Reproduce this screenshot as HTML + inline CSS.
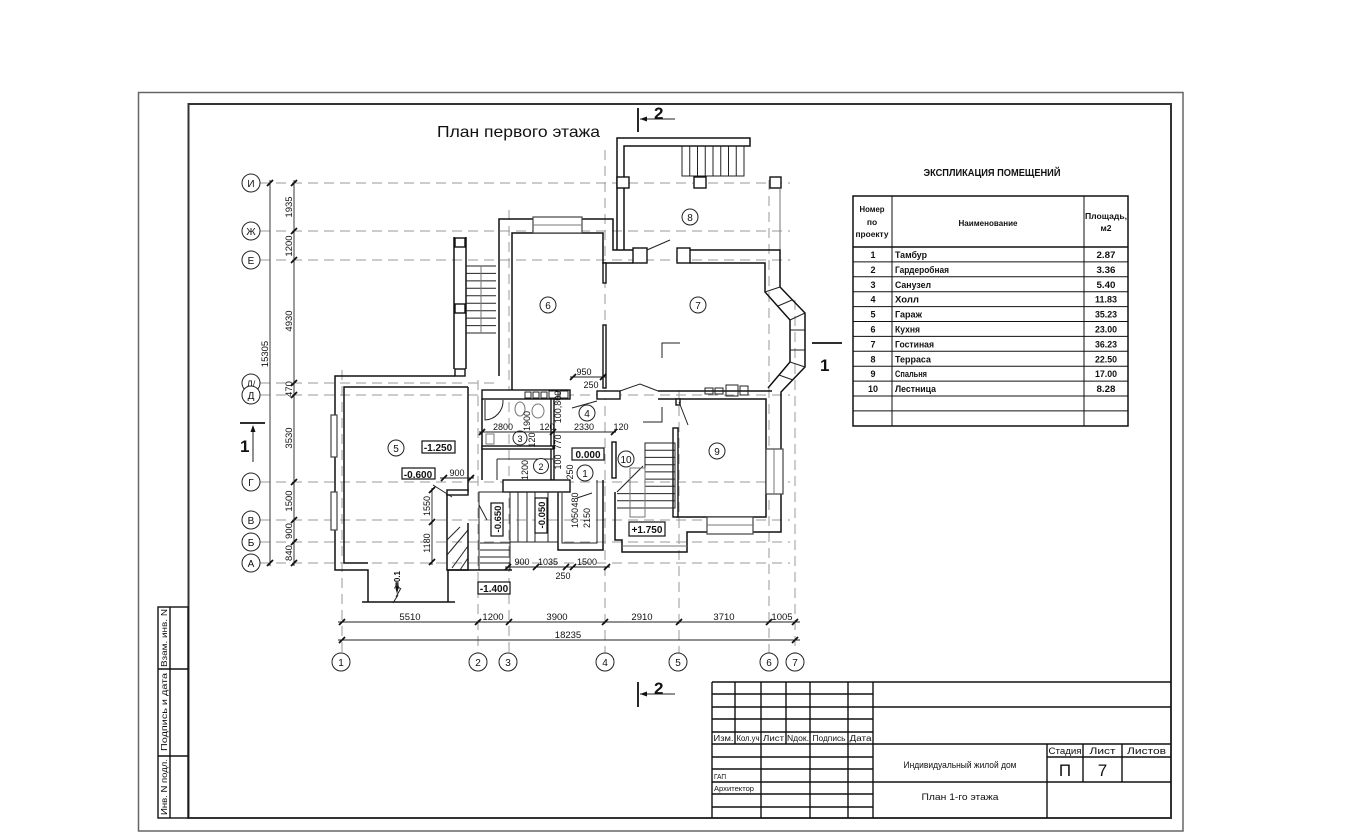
<!DOCTYPE html>
<html><head><meta charset="utf-8">
<style>
html,body{margin:0;padding:0;background:#fff;}
svg{display:block;}
text{font-family:"Liberation Sans",sans-serif;fill:#111;}
.w{fill:none;stroke:#111;stroke-width:1.5;}
.wf{fill:#fff;stroke:#111;stroke-width:1.4;}
.t{fill:none;stroke:#222;stroke-width:1;}
.gr{fill:none;stroke:#777;stroke-width:1;}
.g{fill:none;stroke:#9a9a9a;stroke-width:1;stroke-dasharray:10 6;}
.d{fill:none;stroke:#222;stroke-width:0.9;}
.tk{fill:none;stroke:#111;stroke-width:1.8;}
.tb{fill:none;stroke:#111;stroke-width:1.4;}
.n{font-size:9.5px;fill:#222;}
.c{fill:#fff;stroke:#222;stroke-width:1;}
</style></head><body>
<svg width="1350" height="840" viewBox="0 0 1350 840" xmlns="http://www.w3.org/2000/svg">
<rect width="1350" height="840" fill="#fff"/>

<!-- Frames -->
<rect x="138.5" y="92.5" width="1044.5" height="738.5" fill="none" stroke="#666" stroke-width="1.5"/>
<rect x="188.5" y="104" width="982.5" height="714" fill="none" stroke="#333" stroke-width="2"/>

<!-- Left stamp -->
<g class="tb">
<rect x="158" y="607" width="30" height="211"/>
<line x1="170" y1="607" x2="170" y2="818"/>
<line x1="158" y1="669" x2="188" y2="669"/>
<line x1="158" y1="756" x2="188" y2="756"/>
</g>
<g font-size="8">
<text x="167" y="638" text-anchor="middle" transform="rotate(-90 167 638)" textLength="58" lengthAdjust="spacingAndGlyphs">Взам. инв. N</text>
<text x="167" y="712" text-anchor="middle" transform="rotate(-90 167 712)" textLength="78" lengthAdjust="spacingAndGlyphs">Подпись и дата</text>
<text x="167" y="787" text-anchor="middle" transform="rotate(-90 167 787)" textLength="56" lengthAdjust="spacingAndGlyphs">Инв. N подл.</text>
</g>

<!-- Plan title -->
<text x="437" y="137" font-size="16" textLength="163" lengthAdjust="spacingAndGlyphs">План первого этажа</text>

<!-- Section marks 2 -->
<line x1="638" y1="108" x2="638" y2="132" class="tk"/>
<line x1="640" y1="119" x2="675" y2="119" class="t"/>
<path d="M640,119 L647,116.5 L647,121.5 Z" fill="#111"/>
<text x="654" y="119" font-size="17" font-weight="bold">2</text>
<line x1="638" y1="682" x2="638" y2="707" class="tk"/>
<line x1="640" y1="694" x2="675" y2="694" class="t"/>
<path d="M640,694 L647,691.5 L647,696.5 Z" fill="#111"/>
<text x="654" y="694" font-size="17" font-weight="bold">2</text>
<!-- Section marks 1 -->
<line x1="240" y1="423" x2="265" y2="423" class="tk"/>
<line x1="253" y1="462" x2="253" y2="426" class="t"/>
<path d="M253,425 L250.5,432 L255.5,432 Z" fill="#111"/>
<text x="240" y="452" font-size="17" font-weight="bold">1</text>
<line x1="812" y1="343" x2="842" y2="343" class="tk"/>
<text x="820" y="371" font-size="17" font-weight="bold">1</text>

<!-- Grid lines horizontal -->
<g class="g">
<line x1="260" y1="183" x2="790" y2="183"/>
<line x1="260" y1="231" x2="790" y2="231"/>
<line x1="260" y1="260" x2="790" y2="260"/>
<line x1="260" y1="383" x2="500" y2="383"/>
<line x1="260" y1="395" x2="790" y2="395"/>
<line x1="260" y1="482" x2="790" y2="482"/>
<line x1="260" y1="520" x2="790" y2="520"/>
<line x1="260" y1="542" x2="790" y2="542"/>
<line x1="260" y1="563" x2="790" y2="563"/>
<!-- vertical -->
<line x1="342" y1="370" x2="342" y2="653"/>
<line x1="478" y1="380" x2="478" y2="653"/>
<line x1="509" y1="210" x2="509" y2="653"/>
<line x1="605" y1="150" x2="605" y2="653"/>
<line x1="679" y1="390" x2="679" y2="653"/>
<line x1="769" y1="180" x2="769" y2="653"/>
<line x1="795" y1="300" x2="795" y2="653"/>
</g>

<!-- Left axis circles -->
<g>
<circle cx="251" cy="183" r="9" class="c"/><text x="251" y="187" font-size="10" text-anchor="middle">И</text>
<circle cx="251" cy="231" r="9" class="c"/><text x="251" y="235" font-size="10" text-anchor="middle">Ж</text>
<circle cx="251" cy="260" r="9" class="c"/><text x="251" y="264" font-size="10" text-anchor="middle">Е</text>
<circle cx="251" cy="383" r="9" class="c"/><text x="251" y="387" font-size="9" text-anchor="middle">Д/</text>
<circle cx="251" cy="395" r="9" class="c"/><text x="251" y="399" font-size="10" text-anchor="middle">Д</text>
<circle cx="251" cy="482" r="9" class="c"/><text x="251" y="486" font-size="10" text-anchor="middle">Г</text>
<circle cx="251" cy="520" r="9" class="c"/><text x="251" y="524" font-size="10" text-anchor="middle">В</text>
<circle cx="251" cy="542" r="9" class="c"/><text x="251" y="546" font-size="10" text-anchor="middle">Б</text>
<circle cx="251" cy="563" r="9" class="c"/><text x="251" y="567" font-size="10" text-anchor="middle">А</text>
</g>

<!-- Left dimension lines -->
<line x1="270" y1="180" x2="270" y2="566" class="d"/>
<line x1="294" y1="180" x2="294" y2="566" class="d"/>
<g class="tk">
<path d="M267,186 L273,180"/><path d="M267,566 L273,560"/>
<path d="M291,186 L297,180"/><path d="M291,234 L297,228"/><path d="M291,263 L297,257"/>
<path d="M291,386 L297,380"/><path d="M291,398 L297,392"/><path d="M291,485 L297,479"/>
<path d="M291,523 L297,517"/><path d="M291,545 L297,539"/><path d="M291,566 L297,560"/>
</g>
<g class="n">
<text x="292" y="207" text-anchor="middle" transform="rotate(-90 292 207)">1935</text>
<text x="292" y="246" text-anchor="middle" transform="rotate(-90 292 246)">1200</text>
<text x="292" y="321" text-anchor="middle" transform="rotate(-90 292 321)">4930</text>
<text x="292" y="389" text-anchor="middle" transform="rotate(-90 292 389)">470</text>
<text x="292" y="438" text-anchor="middle" transform="rotate(-90 292 438)">3530</text>
<text x="292" y="501" text-anchor="middle" transform="rotate(-90 292 501)">1500</text>
<text x="292" y="531" text-anchor="middle" transform="rotate(-90 292 531)">900</text>
<text x="292" y="553" text-anchor="middle" transform="rotate(-90 292 553)">840</text>
<text x="268" y="354" text-anchor="middle" transform="rotate(-90 268 354)">15305</text>
</g>

<!-- Bottom dimension lines -->
<line x1="338" y1="622" x2="800" y2="622" class="d"/>
<line x1="338" y1="640" x2="800" y2="640" class="d"/>
<g class="tk">
<path d="M339,625 L345,619"/><path d="M475,625 L481,619"/><path d="M506,625 L512,619"/>
<path d="M602,625 L608,619"/><path d="M676,625 L682,619"/><path d="M766,625 L772,619"/>
<path d="M792,625 L798,619"/>
<path d="M339,643 L345,637"/><path d="M792,643 L798,637"/>
</g>
<g class="n" text-anchor="middle">
<text x="410" y="620">5510</text>
<text x="493" y="620">1200</text>
<text x="557" y="620">3900</text>
<text x="642" y="620">2910</text>
<text x="724" y="620">3710</text>
<text x="782" y="620">1005</text>
<text x="568" y="638">18235</text>
</g>
<!-- Bottom axis circles -->
<g>
<circle cx="341" cy="662" r="9" class="c"/><text x="341" y="666" font-size="10" text-anchor="middle">1</text>
<circle cx="478" cy="662" r="9" class="c"/><text x="478" y="666" font-size="10" text-anchor="middle">2</text>
<circle cx="508" cy="662" r="9" class="c"/><text x="508" y="666" font-size="10" text-anchor="middle">3</text>
<circle cx="605" cy="662" r="9" class="c"/><text x="605" y="666" font-size="10" text-anchor="middle">4</text>
<circle cx="678" cy="662" r="9" class="c"/><text x="678" y="666" font-size="10" text-anchor="middle">5</text>
<circle cx="769" cy="662" r="9" class="c"/><text x="769" y="666" font-size="10" text-anchor="middle">6</text>
<circle cx="795" cy="662" r="9" class="c"/><text x="795" y="666" font-size="10" text-anchor="middle">7</text>
</g>

<!-- ===== PLAN ===== -->
<!-- Terrace -->
<path class="w" d="M617,250 V138 H750 V146 H624 V250"/>
<rect x="682" y="146" width="62" height="30" class="t"/>
<g class="t">
<line x1="689.75" y1="146" x2="689.75" y2="176"/><line x1="697.5" y1="146" x2="697.5" y2="176"/>
<line x1="705.25" y1="146" x2="705.25" y2="176"/><line x1="713" y1="146" x2="713" y2="176"/>
<line x1="720.75" y1="146" x2="720.75" y2="176"/><line x1="728.5" y1="146" x2="728.5" y2="176"/>
<line x1="736.25" y1="146" x2="736.25" y2="176"/>
</g>
<rect x="617" y="177" width="12" height="11" class="wf"/>
<rect x="694" y="177" width="12" height="11" class="wf"/>
<rect x="770" y="177" width="11" height="11" class="wf"/>
<line x1="780" y1="188" x2="780" y2="250" class="gr"/>
<circle cx="690" cy="217" r="8" class="c"/><text x="690" y="221" font-size="10" text-anchor="middle">8</text>

<!-- Kitchen -->
<path class="w" d="M499,376 V219 H613 V250 H633"/>
<path class="w" d="M512,390 V233 H603 V263 H633"/>
<rect x="533" y="217" width="49" height="16" fill="#fff" stroke="#444" stroke-width="1.2"/>
<line x1="533" y1="225" x2="582" y2="225" class="gr"/>
<rect x="633" y="248" width="14" height="15" class="wf"/>
<rect x="677" y="248" width="13" height="15" class="wf"/>
<line x1="647" y1="250" x2="670" y2="240" class="t"/>
<!-- partition 6/7 -->
<rect x="603" y="263" width="3" height="20" class="wf"/>
<rect x="603" y="325" width="3" height="63" class="wf"/>
<circle cx="548" cy="305" r="8" class="c"/><text x="548" y="309" font-size="10" text-anchor="middle">6</text>

<!-- Stair block left of kitchen -->
<line x1="454" y1="237" x2="454" y2="369" class="w"/>
<line x1="466" y1="237" x2="466" y2="369" class="w"/>
<rect x="455" y="238" width="10" height="9" class="wf"/>
<rect x="455" y="304" width="10" height="9" class="wf"/>
<rect x="455" y="369" width="10" height="7" class="wf"/>
<g class="t">
<line x1="466" y1="266" x2="496" y2="266"/><line x1="466" y1="273.4" x2="496" y2="273.4"/>
<line x1="466" y1="280.9" x2="496" y2="280.9"/><line x1="466" y1="288.3" x2="496" y2="288.3"/>
<line x1="466" y1="295.8" x2="496" y2="295.8"/><line x1="466" y1="303.2" x2="496" y2="303.2"/>
<line x1="466" y1="310.7" x2="496" y2="310.7"/><line x1="466" y1="318.1" x2="496" y2="318.1"/>
<line x1="466" y1="325.6" x2="496" y2="325.6"/><line x1="466" y1="333" x2="496" y2="333"/>
</g>
<line x1="481" y1="266" x2="481" y2="333" class="gr" stroke-width="0.6"/>

<!-- Living room 7 + bay + bedroom -->
<path class="w" d="M690,250 H780 V287 L805,313 V367 L781,392 V532 H687 V552 H622 V540 H615 V492"/>
<path class="w" d="M690,263 H765 V292 L790,320 V362 L768,388"/>
<g class="t">
<line x1="780" y1="287" x2="765" y2="292"/>
<line x1="792" y1="300" x2="778" y2="306"/>
<line x1="805" y1="313" x2="790" y2="320"/>
<line x1="805" y1="330" x2="790" y2="330"/>
<line x1="805" y1="350" x2="790" y2="350"/>
<line x1="805" y1="367" x2="790" y2="362"/>
<line x1="793" y1="380" x2="779" y2="375"/>
</g>
<circle cx="698" cy="305" r="8" class="c"/><text x="698" y="309" font-size="10" text-anchor="middle">7</text>
<path class="t" d="M662,358 V343 H680" stroke-width="1.2"/>

<!-- Hall top wall / living bottom wall -->
<rect x="482" y="390" width="88" height="9" class="wf"/>
<rect x="597" y="391" width="23" height="8" class="wf"/>
<path class="t" d="M620,391 L640,384 L658,391"/>
<path class="w" d="M658,391 H772"/>
<path class="w" d="M658,399 H766 V517 H676"/>
<g class="t">
<rect x="525" y="392" width="6" height="6"/><rect x="533" y="392" width="6" height="6"/>
<rect x="541" y="392" width="6" height="6"/><rect x="549" y="391" width="9" height="7"/>
<rect x="560" y="391" width="8" height="7"/>
<rect x="705" y="388" width="8" height="6"/><rect x="715" y="388" width="8" height="6"/>
<rect x="726" y="385" width="12" height="11"/><rect x="740" y="386" width="8" height="9"/>
</g>
<!-- bedroom -->
<rect x="766" y="449" width="17" height="45" fill="#fff" stroke="#444" stroke-width="1.2"/>
<line x1="774" y1="449" x2="774" y2="494" class="gr"/>
<rect x="707" y="517" width="46" height="17" fill="#fff" stroke="#444" stroke-width="1.2"/>
<line x1="707" y1="525" x2="753" y2="525" class="gr"/>
<rect x="673" y="428" width="5" height="89" class="wf"/>
<rect x="676" y="399" width="4" height="6" class="wf"/>
<line x1="679" y1="402" x2="688" y2="425" class="t"/>
<circle cx="717" cy="451" r="8" class="c"/><text x="717" y="455" font-size="10" text-anchor="middle">9</text>

<!-- Stair 10 -->
<rect x="645" y="443" width="30" height="65" class="t"/>
<g class="t">
<line x1="645" y1="450.2" x2="675" y2="450.2"/><line x1="645" y1="457.4" x2="675" y2="457.4"/>
<line x1="645" y1="464.7" x2="675" y2="464.7"/><line x1="645" y1="471.9" x2="675" y2="471.9"/>
<line x1="645" y1="479.1" x2="675" y2="479.1"/><line x1="645" y1="486.3" x2="675" y2="486.3"/>
<line x1="617" y1="493.6" x2="675" y2="493.6"/><line x1="617" y1="500.8" x2="675" y2="500.8"/>
<line x1="617" y1="508" x2="675" y2="508"/>
<line x1="617" y1="492" x2="643" y2="466"/>
</g>
<rect x="630" y="468" width="15" height="49" class="gr" stroke-width="0.6"/>
<rect x="612" y="442" width="4" height="36" class="wf"/>
<line x1="622" y1="546" x2="687" y2="546" class="gr"/>
<circle cx="626" cy="459" r="8" class="c"/><text x="626" y="463" font-size="10" text-anchor="middle">10</text>
<rect x="629" y="522" width="36" height="14" fill="#fff" stroke="#111" stroke-width="1.2"/>
<text x="647" y="533" font-size="10" font-weight="bold" text-anchor="middle">+1.750</text>
<path class="t" d="M643,422 H662 V407" stroke-width="1.2"/>

<!-- Toilet / wardrobe / hall -->
<path class="w" d="M482,399 V480"/>
<path class="w" d="M468,387 V492"/>
<path class="t" d="M485,400 V420 A19,19 0 0 0 503,400"/>
<ellipse cx="520" cy="409" rx="5" ry="7" class="gr"/>
<ellipse cx="538" cy="411" rx="6" ry="7" class="gr"/>
<rect x="551" y="399" width="3" height="81" class="wf"/>
<rect x="482" y="446" width="71" height="3" class="wf"/>
<line x1="497" y1="459" x2="553" y2="459" class="t"/>
<line x1="497" y1="459" x2="497" y2="480" class="t"/>
<rect x="486" y="434" width="8" height="10" class="gr" stroke-width="0.6"/>
<rect x="503" y="480" width="67" height="12" class="wf"/>
<line x1="572" y1="408" x2="597" y2="401" class="t"/>
<circle cx="587" cy="413" r="8" class="c"/><text x="587" y="417" font-size="10" text-anchor="middle">4</text>
<circle cx="520" cy="438" r="7" class="c"/><text x="520" y="442" font-size="9" text-anchor="middle">3</text>
<circle cx="541" cy="466" r="7.5" class="c"/><text x="541" y="470" font-size="9" text-anchor="middle">2</text>
<circle cx="585" cy="473" r="8" class="c"/><text x="585" y="477" font-size="10" text-anchor="middle">1</text>
<rect x="572" y="448" width="32" height="12" fill="#fff" stroke="#111" stroke-width="1.2"/>
<text x="588" y="458" font-size="10" font-weight="bold" text-anchor="middle">0.000</text>

<!-- Tambour -->
<path class="w" d="M558,493 V550 H603 V480"/>
<path class="t" d="M562,493 V543 H597 V480"/>
<line x1="577" y1="498" x2="592" y2="493" class="t"/>

<!-- Garage -->
<path class="w" d="M455,376 H335 V570 H368 V602"/>
<path class="w" d="M468,387 H344 V563 H368"/>
<rect x="331" y="415" width="6" height="42" fill="#fff" stroke="#444" stroke-width="1.2"/>
<rect x="331" y="492" width="6" height="38" fill="#fff" stroke="#444" stroke-width="1.2"/>
<line x1="362" y1="602" x2="455" y2="602" class="w"/>
<line x1="448" y1="570" x2="448" y2="602" class="w"/>
<path class="w" d="M447,493 V570 H468 V523"/>
<rect x="447" y="490" width="21" height="5" class="wf"/>
<line x1="433" y1="485" x2="452" y2="497" class="t"/>
<g class="t">
<line x1="447" y1="555" x2="468" y2="530"/>
<line x1="452" y1="568" x2="468" y2="546"/>
<line x1="447" y1="540" x2="460" y2="527"/>
<line x1="460" y1="570" x2="468" y2="558"/>
</g>
<circle cx="396" cy="448" r="8" class="c"/><text x="396" y="452" font-size="10" text-anchor="middle">5</text>
<rect x="422" y="441" width="33" height="12" fill="#fff" stroke="#111" stroke-width="1.2"/>
<text x="438" y="451" font-size="10" font-weight="bold" text-anchor="middle">-1.250</text>
<rect x="402" y="468" width="33" height="11" fill="#fff" stroke="#111" stroke-width="1.2"/>
<text x="418" y="478" font-size="10" font-weight="bold" text-anchor="middle">-0.600</text>
<!-- slope mark -->
<text x="400" y="580" font-size="8" font-weight="bold" text-anchor="middle" transform="rotate(-90 400 580)">i=0.1</text>
<line x1="397" y1="582" x2="397" y2="592" class="t"/>
<path d="M397,594 L395,586 L399,586 Z" fill="#111"/>
<path class="t" d="M393,603 L398,595 L396,597 L401,588"/>

<!-- Basement stair area -->
<rect x="479" y="492" width="31" height="78" class="t"/>
<rect x="510" y="492" width="48" height="50" class="t"/>
<g class="t">
<line x1="518" y1="492" x2="518" y2="542"/><line x1="527" y1="492" x2="527" y2="542"/>
<line x1="535" y1="492" x2="535" y2="542"/><line x1="548" y1="492" x2="548" y2="542"/>
<line x1="480" y1="543" x2="510" y2="543"/><line x1="480" y1="550" x2="510" y2="550"/>
<line x1="480" y1="557" x2="510" y2="557"/><line x1="480" y1="563" x2="510" y2="563"/>
<line x1="479" y1="505" x2="487" y2="520"/>
</g>
<line x1="447" y1="570" x2="512" y2="570" class="w"/>
<rect x="491" y="503" width="12" height="33" fill="#fff" stroke="#111" stroke-width="1.2"/>
<text x="501" y="519" font-size="9.5" font-weight="bold" text-anchor="middle" transform="rotate(-90 501 519)">-0.650</text>
<rect x="535" y="498" width="12" height="35" fill="#fff" stroke="#111" stroke-width="1.2"/>
<text x="545" y="515" font-size="9.5" font-weight="bold" text-anchor="middle" transform="rotate(-90 545 515)">-0.050</text>
<rect x="478" y="582" width="32" height="12" fill="#fff" stroke="#111" stroke-width="1.2"/>
<text x="494" y="592" font-size="10" font-weight="bold" text-anchor="middle">-1.400</text>

<!-- Internal dimensions -->
<g class="d">
<line x1="570" y1="377" x2="606" y2="377"/>
<line x1="479" y1="432" x2="616" y2="432"/>
<line x1="440" y1="478" x2="474" y2="478"/>
<line x1="432" y1="488" x2="432" y2="565"/>
<line x1="505" y1="567" x2="610" y2="567"/>
<line x1="553" y1="400" x2="553" y2="480" stroke="none"/>
</g>
<g class="tk" stroke-width="1.4">
<path d="M570,380 L576,374"/><path d="M600,380 L606,374"/>
<path d="M479,435 L485,429"/><path d="M550,435 L556,429"/><path d="M611,435 L617,429"/>
<path d="M441,481 L447,475"/><path d="M468,481 L474,475"/>
<path d="M429,493 L435,487"/><path d="M429,525 L435,519"/><path d="M429,565 L435,559"/>
<path d="M505,570 L511,564"/><path d="M533,570 L539,564"/><path d="M563,570 L569,564"/>
<path d="M570,570 L576,564"/><path d="M604,570 L610,564"/>
</g>
<g font-size="9" fill="#222" text-anchor="middle">
<text x="584" y="375">950</text>
<text x="591" y="388">250</text>
<text x="503" y="430">2800</text>
<text x="547" y="430">120</text>
<text x="584" y="430">2330</text>
<text x="621" y="430">120</text>
<text x="457" y="476">900</text>
<text x="522" y="565">900</text>
<text x="548" y="565">1035</text>
<text x="587" y="565">1500</text>
<text x="563" y="579">250</text>
<text x="530" y="421" transform="rotate(-90 530 421)">1900</text>
<text x="561" y="407" transform="rotate(-90 561 407)">100,800</text>
<text x="535" y="440" transform="rotate(-90 535 440)">120</text>
<text x="561" y="442" transform="rotate(-90 561 442)">770</text>
<text x="561" y="462" transform="rotate(-90 561 462)">100</text>
<text x="528" y="470" transform="rotate(-90 528 470)">1200</text>
<text x="573" y="472" transform="rotate(-90 573 472)">250</text>
<text x="578" y="500" transform="rotate(-90 578 500)">480</text>
<text x="578" y="518" transform="rotate(-90 578 518)">1050</text>
<text x="590" y="518" transform="rotate(-90 590 518)">2150</text>
<text x="430" y="506" transform="rotate(-90 430 506)">1550</text>
<text x="430" y="543" transform="rotate(-90 430 543)">1180</text>
</g>

<!-- ===== Explication table ===== -->
<text x="992" y="176" font-size="10" font-weight="bold" text-anchor="middle" textLength="137" lengthAdjust="spacingAndGlyphs">ЭКСПЛИКАЦИЯ ПОМЕЩЕНИЙ</text>
<rect x="853" y="196" width="275" height="230" fill="none" stroke="#111" stroke-width="1.5"/>
<g stroke="#111" stroke-width="1">
<line x1="892" y1="196" x2="892" y2="426"/>
<line x1="1084" y1="196" x2="1084" y2="426"/>
<line x1="853" y1="247" x2="1128" y2="247" stroke-width="1.4"/>
<line x1="853" y1="261.9" x2="1128" y2="261.9"/>
<line x1="853" y1="276.8" x2="1128" y2="276.8"/>
<line x1="853" y1="291.7" x2="1128" y2="291.7"/>
<line x1="853" y1="306.6" x2="1128" y2="306.6"/>
<line x1="853" y1="321.5" x2="1128" y2="321.5"/>
<line x1="853" y1="336.4" x2="1128" y2="336.4"/>
<line x1="853" y1="351.3" x2="1128" y2="351.3"/>
<line x1="853" y1="366.2" x2="1128" y2="366.2"/>
<line x1="853" y1="381.1" x2="1128" y2="381.1"/>
<line x1="853" y1="396" x2="1128" y2="396"/>
<line x1="853" y1="410.9" x2="1128" y2="410.9"/>
</g>
<g font-size="8.5" font-weight="bold">
<text x="872" y="212" text-anchor="middle" textLength="25" lengthAdjust="spacingAndGlyphs">Номер</text>
<text x="872" y="225" text-anchor="middle">по</text>
<text x="872" y="237" text-anchor="middle" textLength="33" lengthAdjust="spacingAndGlyphs">проекту</text>
<text x="988" y="226" text-anchor="middle" textLength="59" lengthAdjust="spacingAndGlyphs">Наименование</text>
<text x="1106" y="219" text-anchor="middle" textLength="42" lengthAdjust="spacingAndGlyphs">Площадь,</text>
<text x="1106" y="231" text-anchor="middle">м2</text>
</g>
<g font-size="9" font-weight="bold">
<g text-anchor="middle">
<text x="873" y="258">1</text><text x="873" y="272.9">2</text><text x="873" y="287.8">3</text>
<text x="873" y="302.7">4</text><text x="873" y="317.6">5</text><text x="873" y="332.5">6</text>
<text x="873" y="347.4">7</text><text x="873" y="362.3">8</text><text x="873" y="377.2">9</text>
<text x="873" y="392.1">10</text>
<text x="1106" y="258" textLength="19" lengthAdjust="spacingAndGlyphs">2.87</text>
<text x="1106" y="272.9" textLength="19" lengthAdjust="spacingAndGlyphs">3.36</text>
<text x="1106" y="287.8" textLength="19" lengthAdjust="spacingAndGlyphs">5.40</text>
<text x="1106" y="302.7" textLength="22" lengthAdjust="spacingAndGlyphs">11.83</text>
<text x="1106" y="317.6" textLength="22" lengthAdjust="spacingAndGlyphs">35.23</text>
<text x="1106" y="332.5" textLength="22" lengthAdjust="spacingAndGlyphs">23.00</text>
<text x="1106" y="347.4" textLength="22" lengthAdjust="spacingAndGlyphs">36.23</text>
<text x="1106" y="362.3" textLength="22" lengthAdjust="spacingAndGlyphs">22.50</text>
<text x="1106" y="377.2" textLength="22" lengthAdjust="spacingAndGlyphs">17.00</text>
<text x="1106" y="392.1" textLength="19" lengthAdjust="spacingAndGlyphs">8.28</text>
</g>
<text x="895" y="258" textLength="32" lengthAdjust="spacingAndGlyphs">Тамбур</text>
<text x="895" y="272.9" textLength="54" lengthAdjust="spacingAndGlyphs">Гардеробная</text>
<text x="895" y="287.8" textLength="36" lengthAdjust="spacingAndGlyphs">Санузел</text>
<text x="895" y="302.7" textLength="24" lengthAdjust="spacingAndGlyphs">Холл</text>
<text x="895" y="317.6" textLength="27" lengthAdjust="spacingAndGlyphs">Гараж</text>
<text x="895" y="332.5" textLength="25" lengthAdjust="spacingAndGlyphs">Кухня</text>
<text x="895" y="347.4" textLength="39" lengthAdjust="spacingAndGlyphs">Гостиная</text>
<text x="895" y="362.3" textLength="36" lengthAdjust="spacingAndGlyphs">Терраса</text>
<text x="895" y="377.2" textLength="32" lengthAdjust="spacingAndGlyphs">Спальня</text>
<text x="895" y="392.1" textLength="41" lengthAdjust="spacingAndGlyphs">Лестница</text>
</g>

<!-- ===== Title block ===== -->
<g stroke="#111" stroke-width="1.4" fill="none">
<line x1="712" y1="682" x2="1171" y2="682"/>
<line x1="712" y1="682" x2="712" y2="818"/>
<line x1="873" y1="682" x2="873" y2="818"/>
<line x1="712" y1="694" x2="873" y2="694"/>
<line x1="712" y1="707" x2="1171" y2="707"/>
<line x1="712" y1="719" x2="873" y2="719"/>
<line x1="712" y1="732" x2="873" y2="732"/>
<line x1="712" y1="744" x2="1171" y2="744"/>
<line x1="712" y1="757" x2="873" y2="757"/>
<line x1="1047" y1="757" x2="1171" y2="757"/>
<line x1="712" y1="769" x2="873" y2="769"/>
<line x1="712" y1="782" x2="1171" y2="782"/>
<line x1="712" y1="794" x2="873" y2="794"/>
<line x1="712" y1="807" x2="873" y2="807"/>
<line x1="735" y1="682" x2="735" y2="744"/>
<line x1="761" y1="682" x2="761" y2="818"/>
<line x1="786" y1="682" x2="786" y2="744"/>
<line x1="810" y1="682" x2="810" y2="818"/>
<line x1="848" y1="682" x2="848" y2="818"/>
<line x1="1047" y1="744" x2="1047" y2="818"/>
<line x1="1083" y1="744" x2="1083" y2="782"/>
<line x1="1122" y1="744" x2="1122" y2="782"/>
</g>
<g font-size="8">
<text x="723.5" y="741" text-anchor="middle" textLength="20" lengthAdjust="spacingAndGlyphs">Изм.</text>
<text x="748" y="741" text-anchor="middle" textLength="23" lengthAdjust="spacingAndGlyphs">Кол.уч</text>
<text x="773.5" y="741" text-anchor="middle" textLength="21" lengthAdjust="spacingAndGlyphs">Лист</text>
<text x="798" y="741" text-anchor="middle" textLength="22" lengthAdjust="spacingAndGlyphs">Nдок.</text>
<text x="829" y="741" text-anchor="middle" textLength="33" lengthAdjust="spacingAndGlyphs">Подпись</text>
<text x="860.5" y="741" text-anchor="middle" textLength="22" lengthAdjust="spacingAndGlyphs">Дата</text>
<text x="714" y="779" font-size="7" textLength="12" lengthAdjust="spacingAndGlyphs">ГАП</text>
<text x="714" y="791" font-size="7" textLength="40" lengthAdjust="spacingAndGlyphs">Архитектор</text>
</g>
<g font-size="9.5">
<text x="960" y="768" text-anchor="middle" textLength="113" lengthAdjust="spacingAndGlyphs">Индивидуальный жилой дом</text>
<text x="960" y="800" text-anchor="middle" textLength="77" lengthAdjust="spacingAndGlyphs">План 1-го этажа</text>
<text x="1065" y="754" text-anchor="middle" textLength="33" lengthAdjust="spacingAndGlyphs">Стадия</text>
<text x="1102.5" y="754" text-anchor="middle" textLength="26" lengthAdjust="spacingAndGlyphs">Лист</text>
<text x="1146.5" y="754" text-anchor="middle" textLength="39" lengthAdjust="spacingAndGlyphs">Листов</text>
</g>
<text x="1065" y="776" font-size="17" text-anchor="middle" fill="#333">П</text>
<text x="1102.5" y="776" font-size="17" text-anchor="middle" fill="#333">7</text>

</svg>
</body></html>
